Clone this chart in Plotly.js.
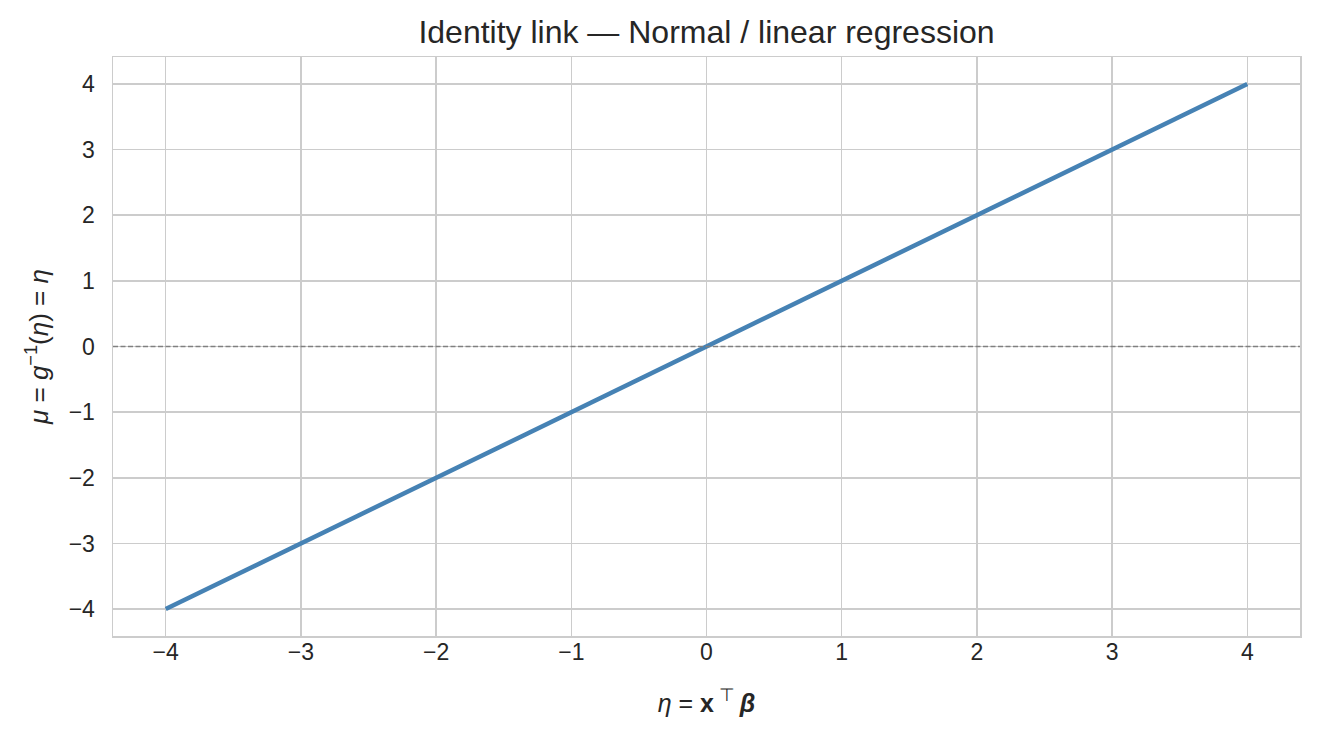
<!DOCTYPE html>
<html>
<head>
<meta charset="utf-8">
<script src="https://cdn.plot.ly/plotly-3.0.1.min.js"></script>
<style>html,body{margin:0;padding:0;background:#fff;}#chart{width:1320px;height:743px;}</style>
</head>
<body>
<div id="chart"></div>
<script>
const eta = [-4, -3, -2, -1, 0, 1, 2, 3, 4];
const mu = [-4, -3, -2, -1, 0, 1, 2, 3, 4];
const xTicks = [-4, -3, -2, -1, 0, 1, 2, 3, 4];
const yTicks = [-4, -3, -2, -1, 0, 1, 2, 3, 4];
const tickText = v => v < 0 ? '\u2212' + Math.abs(v) : String(v);
const refLevel = 0;

const fam = 'Liberation Sans, Arial, sans-serif';
const sp = '\u00a0';
const trace = {
  x: eta, y: mu, type: 'scatter', mode: 'lines',
  line: {color: '#4682b4', width: 4.5}, hoverinfo: 'skip', showlegend: false
};
const axisBase = {
  showgrid: true, gridcolor: '#cccccc', gridwidth: 1.5,
  zeroline: false, showline: true, linecolor: '#cccccc', linewidth: 1.5, mirror: true,
  ticks: '', ticklen: 0, tickfont: {family: fam, size: 23, color: '#262626'}
};
const layout = {
  width: 1320, height: 743,
  margin: {l: 113, r: 20, t: 57, b: 107},
  paper_bgcolor: '#ffffff', plot_bgcolor: '#ffffff',
  title: {text: 'Identity link \u2014 Normal / linear regression', xref: 'paper', x: 0.5, xanchor: 'center', y: 0.957, yanchor: 'middle',
          font: {family: fam, size: 32, color: '#262626'}},
  xaxis: Object.assign({}, axisBase, {
    range: [-4.39, 4.39], tickvals: xTicks, ticktext: xTicks.map(tickText), ticklabelstandoff: -5,
    title: {text: '<i>\u03b7</i>' + sp + '=' + sp + '<b>x</b><span style="color:#262626"><sup>' + sp + '\u22a4' + sp + '</sup></span><b><i>\u03b2</i></b>', standoff: 30,
            font: {family: fam, size: 25, color: '#262626'}}
  }),
  yaxis: Object.assign({}, axisBase, {
    range: [-4.41, 4.41], tickvals: yTicks, ticktext: yTicks.map(tickText), ticklabelstandoff: 12,
    title: {text: '<i>\u03bc</i>' + sp + '=' + sp + '<i>g</i><sup>\u22121</sup>(<i>\u03b7</i>)' + sp + '=' + sp + '<i>\u03b7</i>', standoff: 12,
            font: {family: fam, size: 26, color: '#262626'}}
  }),
  shapes: [{type: 'line', xref: 'paper', x0: 0, x1: 1, yref: 'y', y0: refLevel, y1: refLevel,
            line: {color: '#808080', width: 1.5, dash: '5px,2.5px'}, layer: 'above'}]
};
Plotly.newPlot('chart', [trace], layout, {displayModeBar: false, staticPlot: true});
</script>
</body>
</html>
